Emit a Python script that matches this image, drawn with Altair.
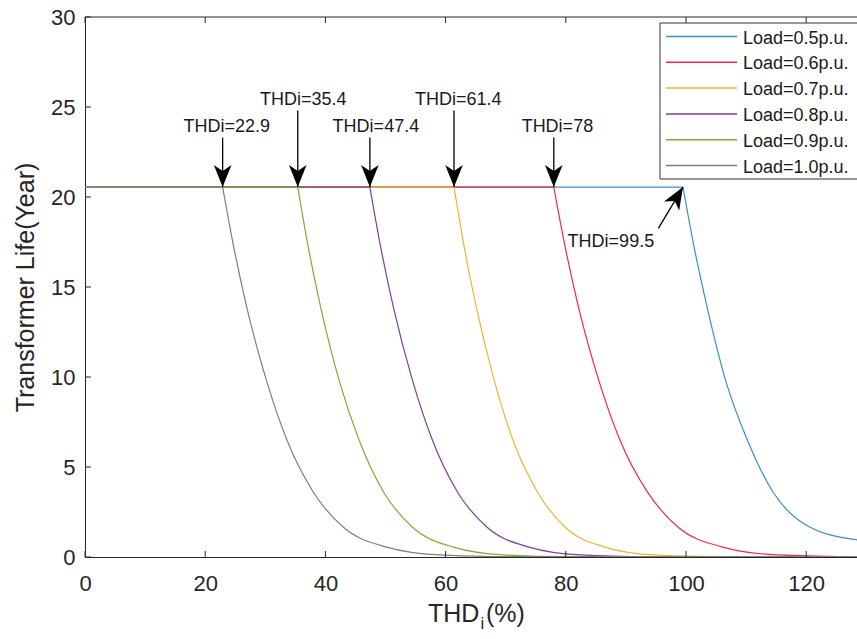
import altair as alt
import pandas as pd

FONT = "Liberation Sans"
INK = "#262626"

# ---- series -------------------------------------------------------------
loads = ["Load=0.5p.u.", "Load=0.6p.u.", "Load=0.7p.u.",
         "Load=0.8p.u.", "Load=0.9p.u.", "Load=1.0p.u."]
colors = ["#3b8fc4", "#f0284a", "#e8b830", "#7e3f96", "#7cae34", "#7f7f7f"]
rated_life = 20.55          # years, flat level before the knee
thresholds = [99.5, 78.0, 61.4, 47.4, 35.4, 22.9]

# decay branch of each curve: THDi (%) and transformer life (years)
thd_05 = [99.5, 101.3, 103.5, 106.6, 110.2, 114.5, 120.1, 128.45]
life_05 = [20.55, 17.3, 13.9, 9.8, 6.5, 3.6, 1.75, 0.95]

thd_06 = [78.0, 79.85, 82.1, 85.5, 89.0, 93.6, 98.7, 106.1, 115.1, 127.4]
life_06 = [20.55, 17.3, 13.9, 9.8, 6.5, 3.6, 1.65, 0.55, 0.12, 0.02]

thd_07 = [61.4, 63.05, 65.1, 68.1, 71.2, 75.3, 79.9, 86.5, 94.5, 105.6, 128.45]
life_07 = [20.55, 17.3, 13.9, 9.8, 6.5, 3.6, 1.65, 0.55, 0.12, 0.02, 0.0]

thd_08 = [47.4, 49.15, 51.3, 54.5, 57.8, 62.0, 66.9, 73.9, 82.3, 94.0, 128.45]
life_08 = [20.55, 17.3, 13.9, 9.8, 6.5, 3.6, 1.65, 0.55, 0.12, 0.02, 0.0]

thd_09 = [35.4, 37.1, 39.2, 42.3, 45.6, 49.7, 54.5, 61.3, 69.6, 81.0, 128.45]
life_09 = [20.55, 17.3, 13.9, 9.8, 6.5, 3.6, 1.65, 0.55, 0.12, 0.02, 0.0]

thd_10 = [22.9, 24.7, 26.9, 30.2, 33.6, 38.0, 43.0, 50.2, 58.9, 70.9, 128.45]
life_10 = [20.55, 17.3, 13.9, 9.8, 6.5, 3.6, 1.65, 0.55, 0.12, 0.02, 0.0]

branches = [(thd_05, life_05), (thd_06, life_06), (thd_07, life_07),
            (thd_08, life_08), (thd_09, life_09), (thd_10, life_10)]

# ---- annotations ----------------------------------------------------------
note_labels = ["THDi=22.9", "THDi=35.4", "THDi=47.4", "THDi=61.4", "THDi=78", "THDi=99.5"]
note_x = [23.6, 36.3, 48.4, 62.1, 78.6, 87.5]
note_y = [23.9, 25.4, 23.9, 25.4, 23.9, 17.5]
arrow_x = [22.9, 35.4, 47.4, 61.4, 78.0]
arrow_from = [23.3, 24.8, 23.3, 24.8, 23.3]
diag_from_x, diag_from_y = 95.4, 18.26

x_ticks = [0, 20, 40, 60, 80, 100, 120]
y_ticks = [0, 5, 10, 15, 20, 25, 30]

X_MAX = 128.45
W, H = 772, 540

xscale = alt.Scale(domain=[0, X_MAX], nice=False, zero=False)
yscale = alt.Scale(domain=[0, 30], nice=False)
x_axis = alt.Axis(values=x_ticks, title=None, tickSize=0, grid=False,
                  labelFont=FONT, labelFontSize=22, labelColor=INK,
                  labelPadding=16, domainColor=INK, domainWidth=1,
                  labelFlush=False)
y_axis = alt.Axis(values=y_ticks, title="Transformer Life(Year)", tickSize=0,
                  grid=False, labelFont=FONT, labelFontSize=22, labelColor=INK,
                  labelPadding=10, domainColor=INK, domainWidth=1,
                  titleFont=FONT, titleFontSize=25, titleFontWeight="normal",
                  titleColor=INK, titleX=-60, titleY=H / 2,
                  titleBaseline="middle", labelFlush=False)


def X(field):
    return alt.X(field, type="quantitative", scale=xscale, axis=x_axis)


def Y(field):
    return alt.Y(field, type="quantitative", scale=yscale, axis=y_axis)


layers = []

# curves: draw 0.5 first so the heavier loads sit on top of the shared flat part
for name, color, t, (xs, ys) in zip(loads, colors, thresholds, branches):
    flat = pd.DataFrame({"thd": [0.0, t], "life": [rated_life, rated_life]})
    layers.append(alt.Chart(flat).mark_line(color=color, strokeWidth=1.4, clip=True)
                  .encode(x=X("thd"), y=Y("life")))
    drop = pd.DataFrame({"thd": xs, "life": ys})
    layers.append(alt.Chart(drop).mark_line(color=color, strokeWidth=1.2, clip=True,
                                            interpolate="monotone")
                  .encode(x=X("thd"), y=Y("life"), order="thd:Q"))

# inward tick marks and top frame
xt = pd.DataFrame({"thd": x_ticks})
yt = pd.DataFrame({"life": y_ticks})
layers.append(alt.Chart(xt).mark_rule(color=INK, strokeWidth=1)
              .encode(x=X("thd"), y=alt.value(H), y2=alt.value(H - 6)))
layers.append(alt.Chart(xt).mark_rule(color=INK, strokeWidth=1)
              .encode(x=X("thd"), y=alt.value(0), y2=alt.value(6)))
layers.append(alt.Chart(yt).mark_rule(color=INK, strokeWidth=1)
              .encode(y=Y("life"), x=alt.value(0), x2=alt.value(6)))
layers.append(alt.Chart(pd.DataFrame({"k": [0]})).mark_rule(color=INK, strokeWidth=1)
              .encode(x=alt.value(0), x2=alt.value(W + 10), y=alt.value(0)))

# arrows
HEAD = "M0,-1L0.6,0.5L0,0.1L-0.6,0.5Z"
R = 14.7
shafts = pd.DataFrame({"thd": arrow_x, "life": arrow_from,
                       "life2": [rated_life] * len(arrow_x)})
layers.append(alt.Chart(shafts).mark_rule(color="black", strokeWidth=1.3)
              .encode(x=X("thd"), y=Y("life"), y2="life2"))
tips = pd.DataFrame({"thd": arrow_x, "life": [rated_life] * len(arrow_x)})
layers.append(alt.Chart(tips).mark_point(shape=HEAD, filled=True, size=(2 * R) ** 2,
                                         color="black", opacity=1, angle=180,
                                         yOffset=-R, strokeWidth=0)
              .encode(x=X("thd"), y=Y("life")))
diag = pd.DataFrame({"thd": [diag_from_x], "life": [diag_from_y],
                     "thd2": [thresholds[0]], "life2": [rated_life]})
layers.append(alt.Chart(diag).mark_rule(color="black", strokeWidth=1.3)
              .encode(x=X("thd"), y=Y("life"), x2="thd2", y2="life2"))
layers.append(alt.Chart(diag).mark_point(shape=HEAD, filled=True, size=(2 * R) ** 2,
                                         color="black", opacity=1, angle=31,
                                         xOffset=-7.6, yOffset=12.6, strokeWidth=0)
              .encode(x=X("thd2"), y=Y("life2")))

notes = pd.DataFrame({"thd": note_x, "life": note_y, "label": note_labels})
layers.append(alt.Chart(notes).mark_text(font=FONT, fontSize=18, color="#1a1a1a",
                                         align="center", baseline="middle")
              .encode(x=X("thd"), y=Y("life"), text="label"))

# legend box
layers.append(alt.Chart(pd.DataFrame({"k": [0]}))
              .mark_rect(fill="white", stroke="#333333", strokeWidth=1)
              .encode(x=alt.value(575), x2=alt.value(W + 20),
                      y=alt.value(6), y2=alt.value(162)))
for i, (name, color) in enumerate(zip(loads, colors)):
    row = 19.5 + 25.8 * i
    entry = pd.DataFrame({"label": [name]})
    layers.append(alt.Chart(entry).mark_rule(color=color, strokeWidth=1.5)
                  .encode(x=alt.value(581), x2=alt.value(652), y=alt.value(row)))
    layers.append(alt.Chart(entry).mark_text(font=FONT, fontSize=18, color="#1a1a1a",
                                             align="left", baseline="middle")
                  .encode(x=alt.value(658), y=alt.value(row + 2), text="label"))

# x-axis title with subscript i
ttl = pd.DataFrame({"t1": ["THD"], "t2": ["i"], "t3": ["(%)"]})
layers.append(alt.Chart(ttl).mark_text(font=FONT, fontSize=25, color=INK,
                                       align="left", baseline="alphabetic")
              .encode(x=alt.value(343), y=alt.value(H + 65), text="t1"))
layers.append(alt.Chart(ttl).mark_text(font=FONT, fontSize=17, color=INK,
                                       align="left", baseline="alphabetic")
              .encode(x=alt.value(395.5), y=alt.value(H + 72), text="t2"))
layers.append(alt.Chart(ttl).mark_text(font=FONT, fontSize=25, color=INK,
                                       align="left", baseline="alphabetic")
              .encode(x=alt.value(401), y=alt.value(H + 65), text="t3"))

chart = (alt.layer(*layers)
         .properties(width=W, height=H, background="white",
                     padding={"left": 85, "top": 17, "right": 0, "bottom": 82},
                     autosize=alt.AutoSizeParams(type="none"))
         .configure_view(stroke=None))

chart.save("out.html", embed_options={"renderer": "svg", "actions": False})
